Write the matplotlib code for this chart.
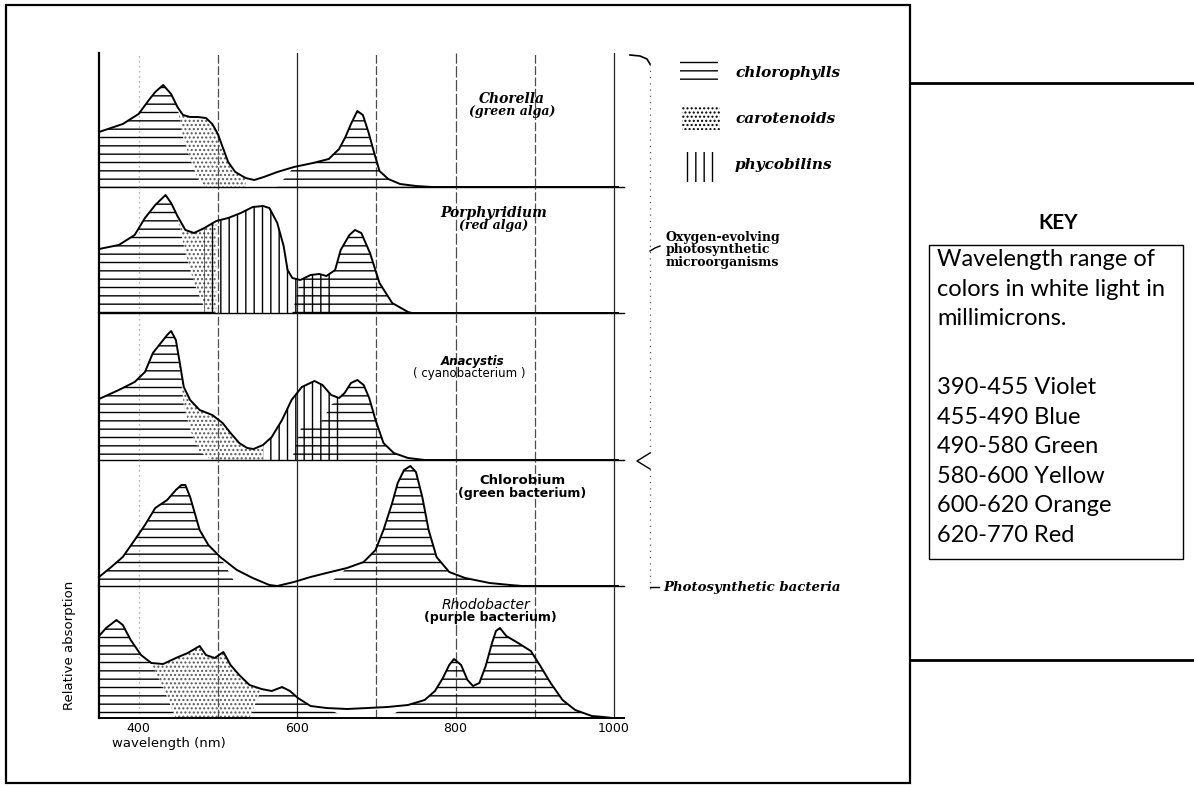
import numpy as np
import matplotlib.pyplot as plt
from matplotlib.patches import Rectangle

W = 1194
H = 787

# ---- absorption spectra: wavelength (nm), relative absorption ----
chorella_wl = [350, 380, 400, 413, 421, 431, 441, 449, 456, 465, 475, 485, 493, 500, 506, 513, 522, 535, 546, 558,
               575, 596, 620, 640, 653, 661, 668, 676, 683, 690, 697, 704, 715, 730, 750, 770, 1005]
chorella_abs = [55, 63, 73, 87, 95, 102, 93, 80, 72, 70, 70, 69, 63, 53, 40, 25, 15, 9, 7, 10,
                15, 20, 24, 28, 38, 50, 63, 76, 72, 55, 35, 16, 8, 3, 1, 0, 0]
chorella_chl = [55, 63, 73, 87, 95, 102, 93, 80, 50, 28, 8, 0, 0, 0, 0, 0, 0, 0, 0, 0,
                0, 20, 24, 28, 38, 50, 63, 76, 72, 55, 35, 16, 8, 3, 1, 0, 0]

porph_wl = [350, 375, 395, 408, 421, 434, 441, 449, 459, 470, 483, 498, 513, 529, 544, 557, 565, 575, 583, 588,
            594, 604, 617, 628, 637, 648, 655, 666, 673, 681, 692, 704, 720, 740, 745, 1005]
porph_abs = [64, 68, 78, 95, 108, 118, 110, 97, 83, 80, 85, 92, 95, 100, 106, 107, 105, 90, 67, 43,
             35, 33, 38, 39, 37, 43, 63, 78, 83, 80, 60, 30, 10, 1, 0, 0]
porph_chl = [64, 68, 78, 95, 108, 118, 110, 97, 60, 30, 5, 0, 0, 0, 0, 0, 0, 0, 0, 0,
             0, 33, 38, 39, 37, 43, 63, 78, 83, 80, 60, 30, 10, 1, 0, 0]

anacystis_wl = [350, 375, 395, 408, 418, 428, 436, 441, 447, 452, 457, 465, 477, 493, 506, 516, 527, 537, 545, 557,
                568, 581, 593, 606, 622, 632, 643, 653, 660, 668, 676, 684, 691, 699, 709, 722, 740, 761, 1005]
anacystis_abs = [61, 70, 78, 88, 107, 117, 125, 129, 120, 97, 73, 60, 50, 45, 37, 27, 17, 12, 11, 15,
                 23, 40, 60, 73, 79, 75, 65, 62, 67, 77, 80, 75, 62, 40, 17, 7, 2, 0, 0]
anacystis_chl = [61, 70, 78, 88, 107, 117, 125, 129, 120, 90, 55, 30, 8, 0, 0, 0, 0, 0, 0, 0,
                 0, 0, 0, 35, 35, 40, 55, 62, 67, 77, 80, 75, 62, 40, 17, 7, 2, 0, 0]

chlorobium_wl = [350, 364, 380, 395, 408, 421, 436, 447, 454, 459, 465, 477, 488, 503, 524, 544, 565, 575, 596, 617,
                 637, 663, 684, 699, 709, 720, 727, 735, 743, 750, 758, 766, 776, 792, 812, 843, 869, 884, 1005]
chlorobium_abs = [9, 18, 29, 46, 61, 78, 86, 96, 101, 101, 89, 56, 41, 29, 16, 8, 1, 0, 4, 9,
                  13, 18, 24, 36, 56, 83, 103, 116, 120, 114, 89, 56, 29, 14, 8, 3, 1, 0, 0]
chlorobium_chl = [9, 18, 29, 46, 61, 78, 86, 96, 101, 101, 89, 56, 41, 29, 0, 0, 0, 0, 0, 0,
                  0, 18, 24, 36, 56, 83, 103, 116, 120, 114, 89, 56, 29, 14, 8, 3, 1, 0, 0]

rhodo_wl = [350, 359, 372, 380, 390, 403, 416, 431, 447, 462, 477, 485, 496, 507, 516, 527, 540, 555, 568, 581,
            591, 601, 617, 637, 663, 689, 714, 740, 761, 774, 784, 792, 798, 807, 815, 822, 830, 838, 846, 851,
            856, 864, 879, 895, 907, 920, 935, 951, 972, 987, 998, 1005]
rhodo_abs = [82, 90, 98, 93, 78, 63, 55, 54, 60, 65, 72, 63, 60, 66, 53, 43, 33, 29, 27, 31,
             27, 20, 12, 10, 9, 10, 11, 13, 18, 27, 40, 53, 59, 53, 38, 32, 35, 52, 75, 87,
             90, 82, 75, 67, 52, 35, 18, 8, 2, 1, 0, 0]
rhodo_chl = [82, 90, 98, 93, 78, 63, 55, 30, 0, 0, 0, 0, 0, 0, 0, 0, 0, 29, 27, 31,
             27, 20, 12, 10, 0, 0, 0, 13, 18, 27, 40, 53, 59, 53, 38, 32, 35, 52, 75, 87,
             90, 82, 75, 67, 52, 35, 18, 8, 2, 1, 0, 0]

# wavelength bands covered by the other pigments (nm)
carotenoid_band = {"chorella": (449, 540), "porph": (449, 498), "anacystis": (447, 557), "rhodo": (416, 556)}
phycobilin_band = {"porph": (478, 652), "anacystis": (556, 653)}

panel_names = ["Chorella", "Porphyridium", "Anacystis", "Chlorobium", "Rhodobacter"]
panel_groups = ["(green alga)", "(red alga)", "( cyanobacterium )", "(green bacterium)", "(purple bacterium)"]

x_ticks = [400, 600, 800, 1000]
grid_wl = [400, 500, 600, 700, 800, 900, 1000]

legend_names = ["chlorophylls", "carotenoids", "phycobilins"]
key_intro = ["Wavelength range of", "colors in white light in", "millimicrons."]
color_ranges = ["390-455", "455-490", "490-580", "580-600", "600-620", "620-770"]
color_names = ["Violet", "Blue", "Green", "Yellow", "Orange", "Red"]

SERIF = "DejaVu Serif"
SANS = "DejaVu Sans"


def px_axes(fig, x0, x1, top, bottom):
    "axes placed by pixel box (y measured from the top)"
    return fig.add_axes([x0 / W, 1 - bottom / H, (x1 - x0) / W, (bottom - top) / H])


fig = plt.figure(figsize=(W / 100, H / 100), dpi=100)

# pixel extents of the five stacked panels
panel_box = [(53, 187), (187, 313), (313, 460), (460, 586), (586, 718)]
spectra = [
    ("chorella", chorella_wl, chorella_abs, chorella_chl),
    ("porph", porph_wl, porph_abs, porph_chl),
    ("anacystis", anacystis_wl, anacystis_abs, anacystis_chl),
    ("chlorobium", chlorobium_wl, chlorobium_abs, chlorobium_chl),
    ("rhodo", rhodo_wl, rhodo_abs, rhodo_chl),
]
grid_ls = [(0, (1, 3)), (0, (7, 2)), "-", (0, (7, 2)), (0, (9, 2)), (0, (7, 2)), "-"]
grid_col = ["0.6", "0.3", "0.15", "0.3", "0.3", "0.3", "0.15"]

axes = []
for i, (key, wl, ab, chl) in enumerate(spectra):
    top, bot = panel_box[i]
    ax = px_axes(fig, 99, 618, top, bot)
    ax.set_xlim(350, 1005)
    ax.set_ylim(0, bot - top)
    ax.patch.set_alpha(0)
    for s in ["top", "right", "bottom"]:
        ax.spines[s].set_visible(False)
    ax.spines["left"].set_linewidth(1.6)
    ax.set_yticks([])
    ax.set_xticks([])
    for g, ls, c in zip(grid_wl, grid_ls, grid_col):
        ax.axvline(g, color=c, ls=ls, lw=0.9, zorder=1)

    wl = np.array(wl)
    ab = np.array(ab)
    chl = np.array(chl)
    # chlorophyll part: horizontal lines
    ax.fill_between(wl, 0, chl, facecolor="none", edgecolor="k", hatch="--", lw=0, zorder=2)
    if key in carotenoid_band:
        lo, hi = carotenoid_band[key]
        m = (wl >= lo) & (wl <= hi)
        ax.fill_between(wl, chl, ab, where=m, facecolor="none", edgecolor="0.35",
                        hatch="....", lw=0, zorder=2)
    if key in phycobilin_band:
        lo, hi = phycobilin_band[key]
        m = (wl >= lo) & (wl <= hi)
        ax.fill_between(wl, 0, ab, where=m, facecolor="none", edgecolor="k",
                        hatch="||", lw=0, zorder=2)
    ax.plot(wl, ab, color="k", lw=1.4, zorder=3, clip_on=False)
    ax.plot([350, 1012], [0, 0], color="k", lw=1.0 if i < 4 else 1.4, zorder=3, clip_on=False)
    axes.append(ax)

bottom_ax = axes[-1]
bottom_ax.set_xticks(x_ticks)
bottom_ax.set_xticklabels([str(t) for t in x_ticks], fontsize=9, family=SANS)
bottom_ax.tick_params(axis="x", length=0, pad=3)

# ---- everything else drawn in pixel space on a transparent overlay ----
ov = fig.add_axes([0, 0, 1, 1])
ov.set_xlim(0, W)
ov.set_ylim(H, 0)
ov.axis("off")
ov.patch.set_alpha(0)

ov.add_patch(Rectangle((6, 5), 904, 778, fill=False, lw=1.6, ec="k"))
ov.plot([910, W], [83, 83], color="k", lw=2)
ov.plot([910, W], [660, 660], color="k", lw=2)

ov.text(69, 645, "Relative absorption", rotation=90, ha="center", va="center",
        fontsize=9.5, family=["Liberation Sans Narrow", SANS])
ov.text(112, 743, "wavelength (nm)", ha="left", va="center", fontsize=9.5, family=SANS)

# panel captions: (x, y, family, style, weight, size)
name_fmt = [(512, 99, SERIF, "italic", "bold", 10), (494, 213, SERIF, "italic", "bold", 10),
            (473, 362, SANS, "italic", "bold", 8.5), (522, 480, SANS, "normal", "bold", 9.5),
            (486, 605, SANS, "italic", "normal", 10)]
group_fmt = [(512, 111, SERIF, "italic", "bold", 9), (494, 226, SERIF, "italic", "bold", 9),
             (469, 374, SANS, "normal", "normal", 8.5), (522, 493, SANS, "normal", "bold", 9),
             (490, 617, SANS, "normal", "bold", 9)]
for i in range(5):
    x, y, fam, st, wt, fs = name_fmt[i]
    ov.text(x, y, panel_names[i], ha="center", va="center", fontsize=fs, style=st, weight=wt, family=fam)
    x, y, fam, st, wt, fs = group_fmt[i]
    ov.text(x, y, panel_groups[i], ha="center", va="center", fontsize=fs, style=st, weight=wt, family=fam)

# pigment legend
swatches = [((680, 57), 38, 27, "--"), ((682, 107), 38, 23, "...."), ((680, 152), 40, 30, "||")]
legend_y = [73, 119, 165]
for (xy, w, h, hatch), name, ly in zip(swatches, legend_names, legend_y):
    ov.add_patch(Rectangle(xy, w, h, fill=False, lw=0, ec="k", hatch=hatch))
    ov.text(735, ly, name, ha="left", va="center", fontsize=11, style="italic",
            weight="bold", family=SERIF)

# grouping bracket on the right
ov.plot([650, 650], [64, 455], color="0.35", lw=0.9, ls=(0, (1, 4)))
ov.plot([650, 650], [469, 590], color="0.35", lw=0.9, ls=(0, (1, 4)))
ov.plot([630, 640, 647, 650], [55, 56, 59, 64], color="k", lw=1.2)
ov.plot([650, 655, 660], [251, 248, 246], color="k", lw=1)
ov.plot([650, 637, 650], [453, 461, 469], color="k", lw=1)
ov.plot([650, 659], [587, 587], color="k", lw=1)
ov.text(666, 250, "Oxygen-evolving\nphotosynthetic\nmicroorganisms", ha="left", va="center",
        fontsize=9, weight="bold", family=SERIF, linespacing=0.95)
ov.text(663, 587, "Photosynthetic bacteria", ha="left", va="center", fontsize=9.5,
        style="italic", weight="bold", family=SERIF)

# colour key
ov.text(1058, 223, "KEY", ha="center", va="center", fontsize=15, weight="bold", family="Lato")
ov.add_patch(Rectangle((929, 245), 254, 314, fill=False, lw=1.0, ec="k"))
for j, line in enumerate(key_intro):
    ov.text(937, 260 + 29.3 * j, line, ha="left", va="center", fontsize=17, family="Lato")
for j, (rng, nm) in enumerate(zip(color_ranges, color_names)):
    ov.text(937, 388 + 29.4 * j, rng + " " + nm, ha="left", va="center", fontsize=17, family="Lato")

fig.savefig("out.png", dpi=100)
